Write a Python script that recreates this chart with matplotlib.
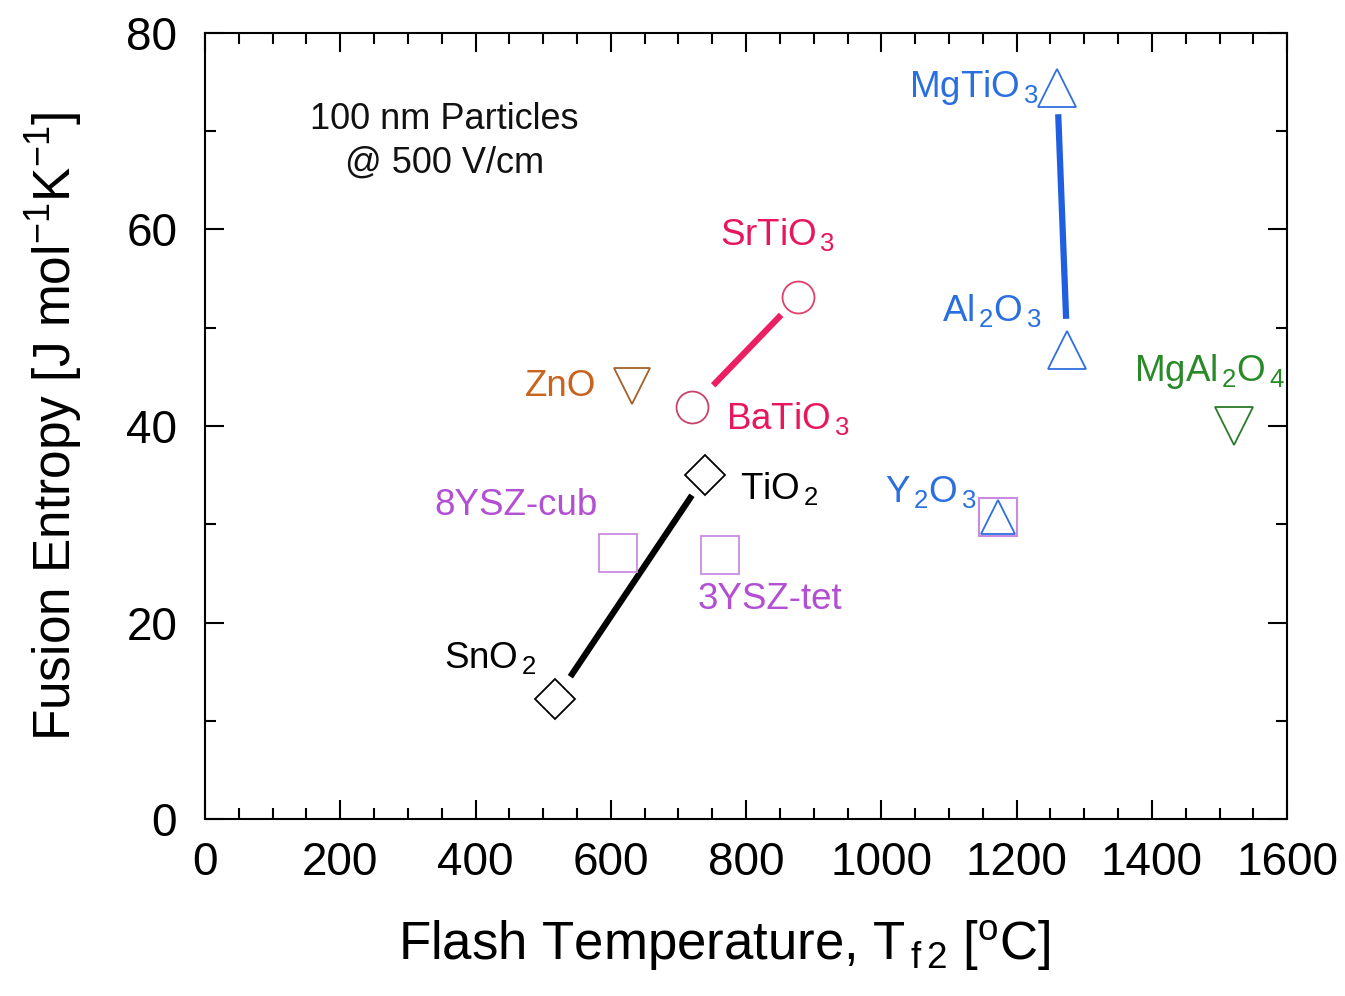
import numpy as np
import matplotlib
matplotlib.use("Agg")
from matplotlib import pyplot as plt
from matplotlib.ticker import MultipleLocator

plt.rcParams['font.family'] = ['Liberation Sans', 'DejaVu Sans']
plt.rcParams['mathtext.fontset'] = 'custom'
plt.rcParams['mathtext.rm'] = 'Liberation Sans'
plt.rcParams['mathtext.it'] = 'Liberation Sans'
plt.rcParams['mathtext.default'] = 'regular'

# data: flash temperature (C), fusion entropy (J/mol/K)
materials = ['SnO2', 'TiO2', '8YSZ-cub', '3YSZ-tet', 'ZnO', 'BaTiO3', 'SrTiO3',
             'MgTiO3', 'Al2O3', 'Y2O3', 'MgAl2O4']
temp = [518, 740, 611, 762, 632, 720, 877, 1260, 1275, 1172, 1522]
entropy = [12.2, 35.0, 27.1, 26.9, 44.1, 41.9, 53.1, 74.4, 47.7, 30.7, 40.0]
markers = ['D', 'D', 's', 's', 'v', 'o', 'o', '^', '^', '^', 'v']
edge_colors = ['black', 'black', '#c98be0', '#c98be0', '#a4622a', '#c8436a', '#e0406c',
               '#2f6fe0', '#2f6fe0', '#2f6fe0', '#2a7a2a']
marker_sizes = [20, 20, 28, 28, 26, 23, 23, 27, 27, 24, 27]

# trend lines (pairs of material indices)
pairs = [(0, 1, 'black'), (5, 6, '#ec1f62'), (7, 8, '#1f5fe0')]
cut = {0: (0.1, 0.91), 5: (0.2, 0.84), 7: (0.1, 0.88)}

# labels: text, x, y, ha, color
labels = [
    ('SnO$_{\\,2}$', 490, 16.4, 'right', 'black'),
    ('TiO$_{\\,2}$', 791, 33.6, 'left', 'black'),
    ('8YSZ-cub', 580, 31.9, 'right', '#b24fd2'),
    ('3YSZ-tet', 728, 22.3, 'left', '#b24fd2'),
    ('ZnO', 578, 44.0, 'right', '#c8641e'),
    ('BaTiO$_{\\,3}$', 771, 40.8, 'left', '#e8175d'),
    ('SrTiO$_{\\,3}$', 846, 59.5, 'center', '#e8175d'),
    ('MgTiO$_{\\,3}$', 1232, 74.4, 'right', '#2a6fe0'),
    ('Al$_{\\,2}$O$_{\\,3}$', 1237, 51.8, 'right', '#2a6fe0'),
    ('Y$_{\\,2}$O$_{\\,3}$', 1140, 33.3, 'right', '#2a6fe0'),
    ('MgAl$_{\\,2}$O$_{\\,4}$', 1597, 45.5, 'right', '#2a8a2a'),
]

fig = plt.figure(figsize=(13.45, 9.96), dpi=100)
ax = fig.add_axes([0.1524, 0.1777, 0.8046, 0.7892])

for i, j, c in pairs:
    a, b = cut[i]
    x0, y0 = temp[i], entropy[i]
    dx, dy = temp[j] - x0, entropy[j] - y0
    ax.plot([x0 + a * dx, x0 + b * dx], [y0 + a * dy, y0 + b * dy], color=c, lw=4.5,
            solid_capstyle='butt')

# Y2O3 also has a square behind the triangle
ax.plot(temp[9], entropy[9], 's', ms=27, mfc='none', mec='#c98be0', mew=1.5)
for k in range(len(materials)):
    ax.plot(temp[k], entropy[k], markers[k], ms=marker_sizes[k], mfc='none',
            mec=edge_colors[k], mew=1.3)

for t, x, y, ha, c in labels:
    ax.text(x, y, t, ha=ha, va='center', color=c, fontsize=26.5)

ax.text(354, 69, '100 nm Particles\n@ 500 V/cm', ha='center', va='center',
        fontsize=26, linespacing=1.3, color='#111111')

ax.set_xlim(0, 1600)
ax.set_ylim(0, 80)
ax.xaxis.set_major_locator(MultipleLocator(200))
ax.xaxis.set_minor_locator(MultipleLocator(50))
ax.yaxis.set_major_locator(MultipleLocator(20))
ax.yaxis.set_minor_locator(MultipleLocator(10))
ax.tick_params(which='both', direction='in', top=True, right=True, width=1.5)
ax.tick_params(which='major', length=14, labelsize=33)
ax.tick_params(axis='x', which='major', pad=16)
ax.tick_params(axis='y', which='major', pad=20)
ax.tick_params(which='minor', length=8)
for s in ax.spines.values():
    s.set_linewidth(1.5)

ax.set_xlabel('Flash Temperature, T$_{\\,f\\,2}$ [$^{o}$C]', fontsize=38, labelpad=24)
ax.xaxis.label.set_x(0.48)
ax.set_ylabel('Fusion Entropy [J mol$^{-1}$K$^{-1}$]', fontsize=37, labelpad=30)

plt.savefig('out.png')
